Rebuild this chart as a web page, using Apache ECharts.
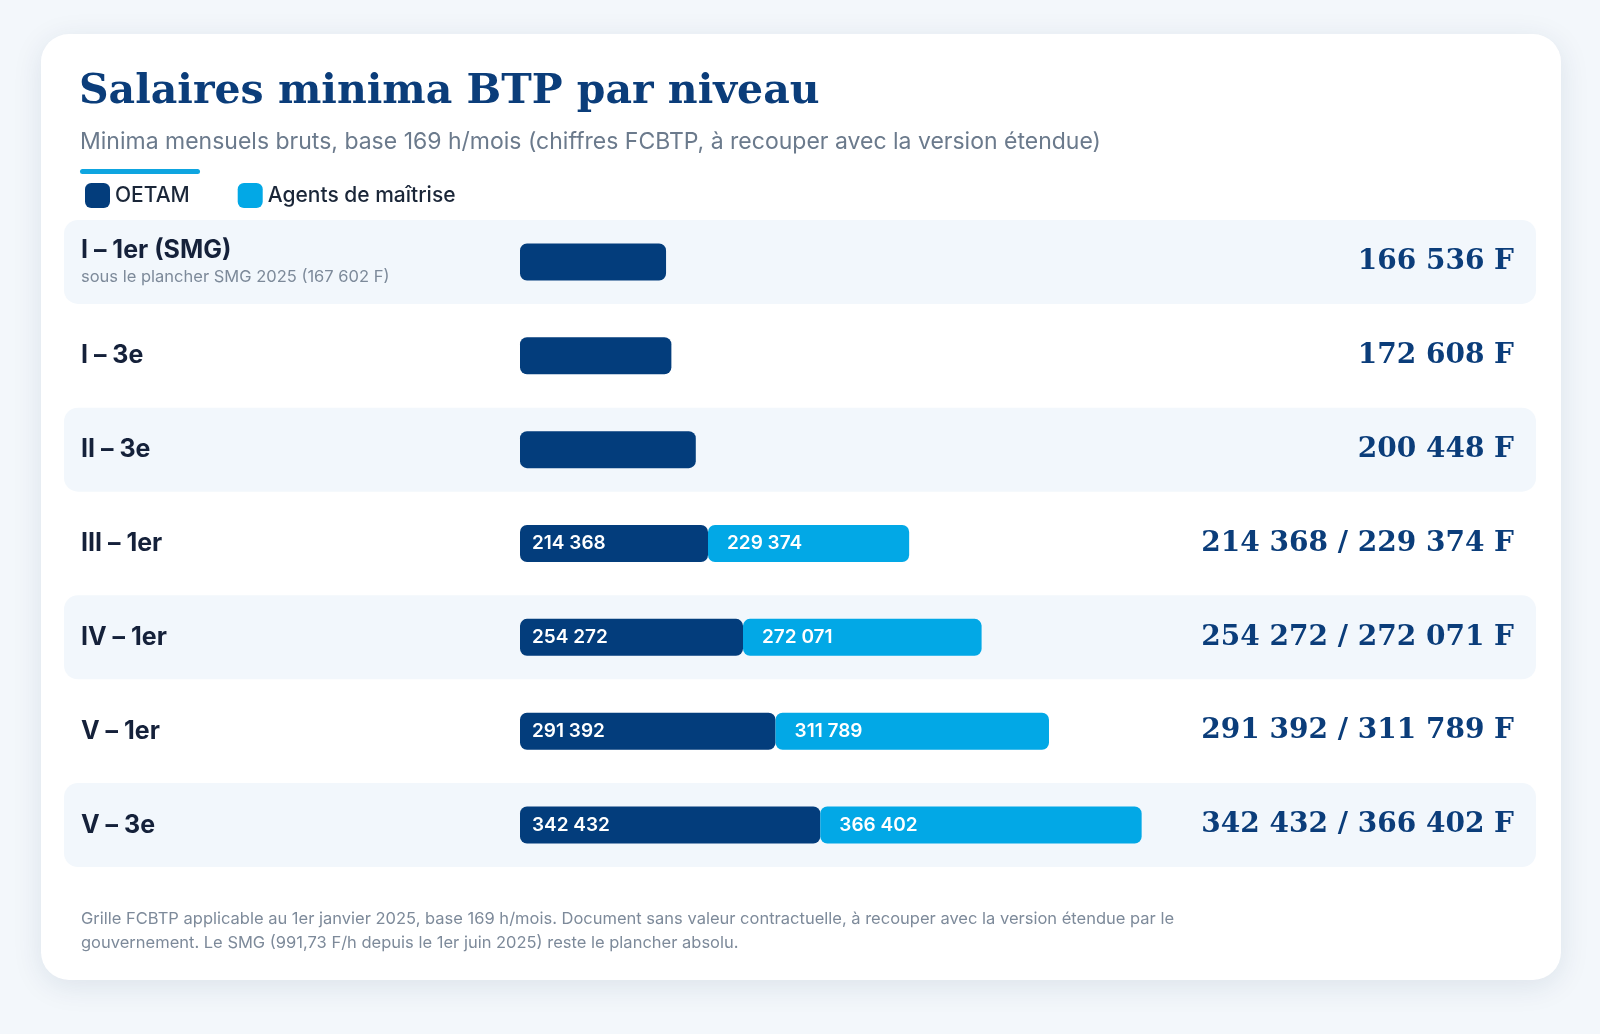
<!DOCTYPE html>
<html><head><meta charset="utf-8">
<script src="https://cdn.jsdelivr.net/npm/echarts@6/dist/echarts.min.js"></script>
<style>html,body{margin:0;background:#f3f7fb}#c{width:1600px;height:1034px}</style>
</head><body><div id="c"></div>
<script>
const niveaux = ["I – 1er (SMG)", "I – 3e", "II – 3e", "III – 1er", "IV – 1er", "V – 1er", "V – 3e"];
const notes = ["sous le plancher SMG 2025 (167 602 F)", "", "", "", "", "", ""];
const oetam = [166536, 172608, 200448, 214368, 254272, 291392, 342432];
const agents = [null, null, null, 229374, 272071, 311789, 366402];
const stripes = [1, 0, 1, 0, 1, 0, 1];

const fmt = v => String(v).replace(/\B(?=(\d{3})+(?!\d))/g, " ");
const rightLabels = niveaux.map((n, i) =>
  agents[i] ? fmt(oetam[i]) + " / " + fmt(agents[i]) + " F" : fmt(oetam[i]) + " F");

const sans = "Inter";
const serif = "DejaVu Serif";
const chart = echarts.init(document.getElementById("c"));
chart.setOption({
  animation: false,
  textStyle: { fontFamily: sans },
  graphic: [
    { type: "rect", z: -10, shape: { x: 41, y: 34, width: 1520, height: 946, r: 28 },
      style: { fill: "#fff", shadowBlur: 30, shadowColor: "rgba(20,50,90,0.10)", shadowOffsetY: 6 } },
    { type: "text", left: 79, top: 72, style: { text: "Salaires minima BTP par niveau", font: "bold 41px 'DejaVu Serif'", fill: "#0b3d7a" } },
    { type: "text", left: 80, top: 131, style: { text: "Minima mensuels bruts, base 169 h/mois (chiffres FCBTP, à recouper avec la version étendue)", font: "23px Inter", fill: "#6b7a8c" } },
    { type: "rect", shape: { x: 80, y: 169, width: 120, height: 5, r: 3 }, style: { fill: "#0ea5e0" } },
    { type: "text", left: 81, top: 907, style: { text: "Grille FCBTP applicable au 1er janvier 2025, base 169 h/mois. Document sans valeur contractuelle, à recouper avec la version étendue par le\ngouvernement. Le SMG (991,73 F/h depuis le 1er juin 2025) reste le plancher absolu.", font: "16.5px Inter", fill: "#7d8a9a", lineHeight: 24 } },
    { type: "ellipse", z: 100, shape: { cx: 1520, cy: 985, rx: 95, ry: 34 }, rotation: 0.3, style: { fill: "none", stroke: "#b9d3e8", lineWidth: 1.5 } },
    { type: "ellipse", z: 100, shape: { cx: 1535, cy: 990, rx: 90, ry: 30 }, rotation: 0.55, style: { fill: "none", stroke: "#cfe2f1", lineWidth: 1.5 } }
  ],
  legend: {
    left: 80, top: 178, itemWidth: 25, itemHeight: 25, itemGap: 48, icon: "roundRect",
    data: ["OETAM", "Agents de maîtrise"],
    textStyle: { fontSize: 21, fontWeight: 500, color: "#1a2638", fontFamily: sans }
  },
  grid: [
    { left: 64, right: 64, top: 215, height: 657 },
    { left: 520, width: 877, top: 215, height: 657 }
  ],
  xAxis: [
    { gridIndex: 0, type: "value", min: 0, max: 1, show: false },
    { gridIndex: 1, type: "value", min: 0, max: 1000000, show: false }
  ],
  yAxis: [
    { gridIndex: 0, type: "category", inverse: true, data: niveaux, position: "left",
      axisLine: { show: false }, axisTick: { show: false },
      axisLabel: { inside: true, margin: 17,
        formatter: (v, i) => notes[i] ? "{a|" + v + "}\n{b|" + notes[i] + "}" : "{a|" + v + "}",
        rich: { a: { fontSize: 25, fontWeight: "bold", color: "#15213a", fontFamily: sans, lineHeight: 30 },
                b: { fontSize: 16.5, color: "#7d8a9a", fontFamily: sans, lineHeight: 22 } } } },
    { gridIndex: 0, type: "category", inverse: true, data: rightLabels, position: "right",
      axisLine: { show: false }, axisTick: { show: false },
      axisLabel: { inside: true, margin: 22, fontSize: 28, fontWeight: "bold", color: "#0b3d7a", fontFamily: serif } },
    { gridIndex: 1, type: "category", inverse: true, data: niveaux, show: false }
  ],
  series: [
    { type: "bar", xAxisIndex: 0, yAxisIndex: 0, barWidth: 84, silent: true, z: 0,
      data: stripes, itemStyle: { color: "#f2f7fc", borderRadius: 14 } },
    { name: "OETAM", type: "bar", xAxisIndex: 1, yAxisIndex: 2, stack: "s", barWidth: 37,
      data: oetam, itemStyle: { color: "#033d7c", borderRadius: 7 },
      label: { show: true, position: "insideLeft", distance: 12, color: "#fff", fontSize: 19, fontWeight: 600,
        formatter: p => agents[p.dataIndex] ? fmt(p.value) : "" } },
    { name: "Agents de maîtrise", type: "bar", xAxisIndex: 1, yAxisIndex: 2, stack: "s", barWidth: 37,
      data: agents, itemStyle: { color: "#02a8e6", borderRadius: 7 },
      label: { show: true, position: "insideLeft", distance: 19, color: "#fff", fontSize: 19, fontWeight: 600,
        formatter: p => fmt(p.value) } }
  ]
});
</script></body></html>
